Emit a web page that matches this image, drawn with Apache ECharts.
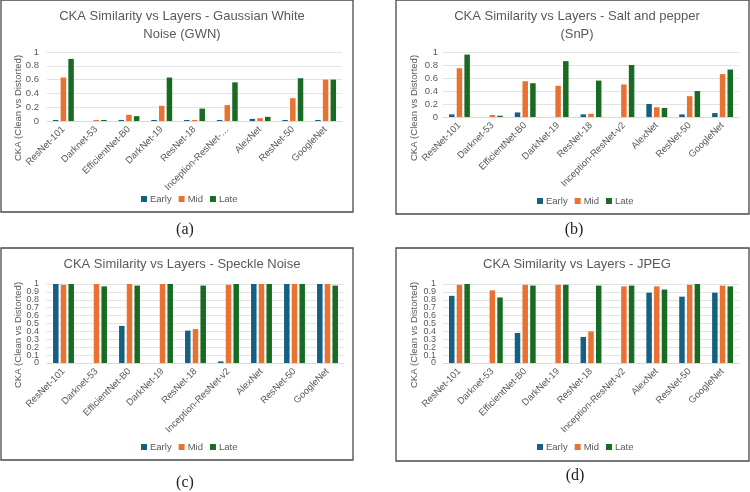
<!DOCTYPE html>
<html>
<head>
<meta charset="utf-8">
<title>CKA Similarity vs Layers</title>
<script src="https://cdn.jsdelivr.net/npm/echarts@6/dist/echarts.min.js"></script>
<style>
  html, body { margin: 0; padding: 0; background: #fff; }
  #myChart { width: 750px; height: 492px; }
</style>
</head>
<body>
<div id="myChart"></div>
<script>
// categories (panel a has a truncated label)
var categories = ['ResNet-101', 'Darknet-53', 'EfficientNet-B0', 'DarkNet-19', 'ResNet-18', 'Inception-ResNet-v2', 'AlexNet', 'ResNet-50', 'GoogleNet']
var categoriesGwn = ['ResNet-101', 'Darknet-53', 'EfficientNet-B0', 'DarkNet-19', 'ResNet-18', 'Inception-ResNet-…', 'AlexNet', 'ResNet-50', 'GoogleNet']
var seriesNames = ['Early', 'Mid', 'Late']

// (a) Gaussian White Noise
var gwnEarly = [0.015, null, 0.015, 0.015, 0.015, 0.015, 0.03, 0.015, 0.015]
var gwnMid = [0.63, 0.015, 0.09, 0.22, 0.015, 0.23, 0.04, 0.33, 0.6]
var gwnLate = [0.9, 0.015, 0.07, 0.63, 0.18, 0.56, 0.06, 0.62, 0.6]

// (b) Salt and pepper
var snpEarly = [0.04, null, 0.07, null, 0.04, null, 0.2, 0.04, 0.06]
var snpMid = [0.75, 0.03, 0.55, 0.48, 0.05, 0.5, 0.15, 0.32, 0.66]
var snpLate = [0.96, 0.02, 0.52, 0.86, 0.56, 0.8, 0.14, 0.4, 0.73]

// (c) Speckle noise
var spkEarly = [1, null, 0.47, null, 0.41, 0.02, 1, 1, 1]
var spkMid = [0.99, 1, 1, 1, 0.43, 0.99, 1, 1, 1]
var spkLate = [1, 0.97, 0.98, 1, 0.98, 1, 1, 1, 0.98]

// (d) JPEG
var jpgEarly = [0.85, null, 0.38, null, 0.33, null, 0.89, 0.84, 0.89]
var jpgMid = [0.99, 0.92, 0.99, 0.99, 0.4, 0.97, 0.97, 0.99, 0.98]
var jpgLate = [1, 0.83, 0.98, 0.99, 0.98, 0.98, 0.93, 1, 0.97]

var colors = ['#156082', '#E97132', '#196B24']
var textColor = '#595959'
var font = 'Liberation Sans, Arial, sans-serif'

// panel layout: box = border, grid = plot area
var panels = [
  { title: 'CKA Similarity vs Layers - Gaussian White\nNoise (GWN)', cats: categoriesGwn, data: [gwnEarly, gwnMid, gwnLate],
    box: [1, 0, 352, 212], grid: [47, 52, 295, 69], interval: 0.2, labelGap: 8, titleX: 177, legendX: 136, legendY: 189, nameX: 18, nameY: 108, caption: '(a)', capX: 185, capY: 230 },
  { title: 'CKA Similarity vs Layers - Salt and pepper\n(SnP)', cats: categories, data: [snpEarly, snpMid, snpLate],
    box: [396, 0, 353, 214], grid: [443, 52, 296, 65], interval: 0.2, labelGap: 5, titleX: 572, legendX: 532, legendY: 191, nameX: 414, nameY: 108, caption: '(b)', capX: 574, capY: 230 },
  { title: 'CKA Similarity vs Layers - Speckle Noise', cats: categories, data: [spkEarly, spkMid, spkLate],
    box: [1, 248, 352, 212], grid: [47, 284, 297, 79], interval: 0.1, labelGap: 8, titleX: 177, legendX: 136, legendY: 437, nameX: 18, nameY: 335, caption: '(c)', capX: 185, capY: 483 },
  { title: 'CKA Similarity vs Layers - JPEG', cats: categories, data: [jpgEarly, jpgMid, jpgLate],
    box: [396, 248, 353, 213], grid: [443, 284, 296, 79], interval: 0.1, labelGap: 7, titleX: 572, legendX: 532, legendY: 437, nameX: 414, nameY: 335, caption: '(d)', capX: 575, capY: 476 }
]

var titles = [], grids = [], xAxes = [], yAxes = [], series = [], legends = [], graphics = []

for (var p = 0; p < panels.length; p++) {
  var pn = panels[p]
  var dense = pn.interval < 0.2
  titles.push({
    text: pn.title,
    left: pn.titleX,
    top: pn.box[1] + 2,
    textAlign: 'center',
    textStyle: { color: textColor, fontFamily: font, fontSize: 13, fontWeight: 'normal', lineHeight: 18 }
  })
  grids.push({ left: pn.grid[0], top: pn.grid[1], width: pn.grid[2], height: pn.grid[3], containLabel: false })
  xAxes.push({
    type: 'category',
    gridIndex: p,
    data: pn.cats,
    axisTick: { show: false },
    axisLine: { lineStyle: { color: '#d9d9d9' } },
    axisLabel: { rotate: 45, interval: 0, color: textColor, fontFamily: font, fontSize: 9.5, margin: 7 }
  })
  var yIdx = yAxes.length
  yAxes.push({
    type: 'value',
    gridIndex: p,
    position: 'left',
    min: 0,
    max: 1,
    interval: pn.interval,
    axisLine: { show: false },
    axisTick: { show: false },
    splitLine: { lineStyle: { color: '#e3e3e3' } },
    axisLabel: {
      color: textColor, fontFamily: font, fontSize: dense ? 9 : 9.5, margin: pn.labelGap,
      showMinLabel: !dense, showMaxLabel: !dense
    }
  })
  // the 0.1 ticks are packed tight, so 0 and 1 go on an overlaid axis
  if (dense) {
    yAxes.push({
      type: 'value',
      gridIndex: p,
      position: 'left',
      offset: 0,
      min: 0,
      max: 1,
      interval: 1,
      axisLine: { show: false },
      axisTick: { show: false },
      splitLine: { show: false },
      axisLabel: { color: textColor, fontFamily: font, fontSize: 9, margin: pn.labelGap }
    })
  }
  for (var s = 0; s < 3; s++) {
    series.push({
      name: seriesNames[s],
      type: 'bar',
      xAxisIndex: p,
      yAxisIndex: yIdx,
      data: pn.data[s],
      barWidth: 5.5,
      barGap: '40%',
      itemStyle: { color: colors[s] }
    })
  }
  legends.push({
    data: seriesNames,
    left: pn.legendX,
    top: pn.legendY,
    itemWidth: 6,
    itemHeight: 6,
    itemGap: 7,
    icon: 'rect',
    textStyle: { color: textColor, fontFamily: font, fontSize: 9.5, padding: [0, 0, 0, -2] }
  })
  // border of each panel
  graphics.push({
    type: 'rect',
    shape: { x: pn.box[0], y: pn.box[1], width: pn.box[2], height: pn.box[3] },
    style: { fill: null, stroke: '#4a4a4a', lineWidth: 1.3 },
    z: 100
  })
  // y axis title
  graphics.push({
    type: 'text',
    x: pn.nameX,
    y: pn.nameY,
    rotation: Math.PI / 2,
    style: { text: 'CKA (Clean vs Distorted)', fill: textColor, font: '9.5px ' + font, align: 'center', verticalAlign: 'middle' }
  })
  // caption below the panel
  graphics.push({
    type: 'text',
    x: pn.capX,
    y: pn.capY,
    style: { text: pn.caption, fill: '#222', font: '16px Liberation Serif, Times New Roman, serif', align: 'center', verticalAlign: 'middle' }
  })
}

var myChart = echarts.init(document.getElementById('myChart'))
myChart.setOption({
  backgroundColor: '#fff',
  animation: false,
  title: titles,
  legend: legends,
  grid: grids,
  xAxis: xAxes,
  yAxis: yAxes,
  series: series,
  graphic: graphics
})
</script>
</body>
</html>
